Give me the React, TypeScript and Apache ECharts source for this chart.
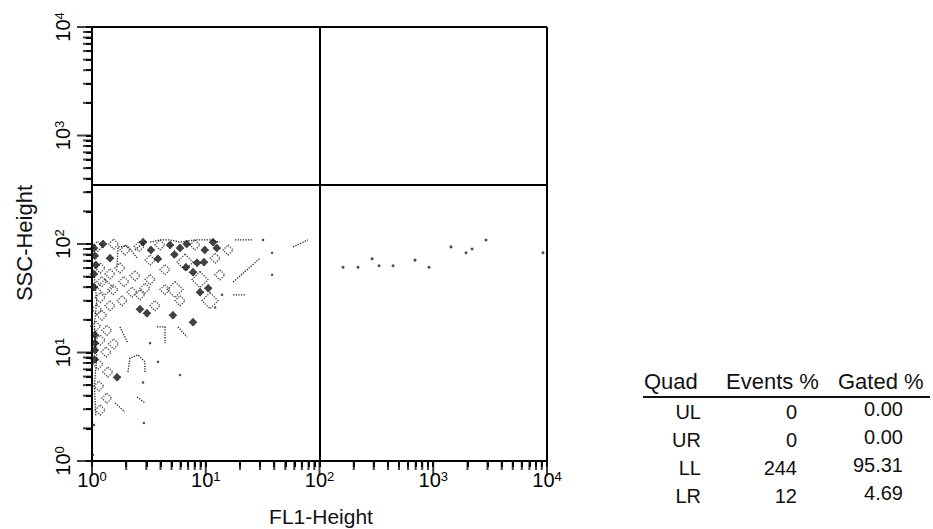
import React, { useEffect, useRef } from "react";
import * as echarts from "echarts";

// ---- data (FL1-Height, SSC-Height) ----
const QUAD_X = 100;
const QUAD_Y = 350;
const AXIS_MIN = 1;
const AXIS_MAX = 10000;
const MAJOR_TICKS = [1, 10, 100, 1000, 10000];
const MINOR_MULTIPLIERS = [2, 3, 4, 5, 6, 7, 8, 9];
const DECADES = [1, 10, 100, 1000];

const SMALL_LOOPS = [
  [1.18, 60], [1.44, 53], [1.76, 60], [1.22, 45], [1.53, 38], [1.91, 45],
  [2.39, 51], [1.18, 32], [1.44, 27], [1.84, 30], [2.25, 36], [2.92, 39],
  [1.22, 22], [1.08, 17.5], [1.18, 13], [1.33, 10.1], [1.13, 7.8], [1.38, 6.6],
  [1.15, 4.9], [1.35, 3.8], [1.18, 2.95], [3.96, 98], [1.95, 88], [3.24, 71],
  [15.7, 88], [4.38, 58], [3.24, 47], [4.38, 38], [2.64, 34], [5.94, 30],
  [8.04, 98], [12.1, 74], [13.3, 52], [3.58, 27], [1.12, 95], [1.55, 100],
  [2.6, 95], [1.35, 16], [1.55, 12], [1.1, 25],
];
const LARGE_LOOPS = [
  [6.57, 68], [8.9, 47], [5.37, 38], [10.9, 30], [1.3, 40],
];
const DENSE_CORES = [
  [1.04, 92], [1.06, 78], [1.08, 64], [1.04, 53], [2.81, 104], [3.8, 73],
  [4.85, 98], [5.94, 92], [6.7, 61], [7.73, 55], [8.38, 67], [9.65, 68],
  [10.5, 39], [8.9, 36], [11.6, 104], [3.04, 23], [2.64, 25], [5.15, 22],
  [7.73, 19], [1.06, 14.5], [1.06, 12.2], [1.06, 10.5], [1.66, 5.9], [1.44, 74],
  [1.25, 100], [3.3, 88], [5.3, 80], [6.8, 100], [9.8, 88], [12.5, 92],
  [1.04, 40], [1.05, 8.6],
];
const SPARSE_EVENTS = [
  [31.9, 109], [38.3, 83], [38.3, 52], [13.9, 34], [12.1, 26], [3.24, 12.2],
  [3.8, 8.2], [2.81, 5.3], [5.94, 6.2], [2.86, 2.24], [1.04, 2.15], [1.02, 1.14],
];
const CONTOUR_TRACES = [
  [[17.4, 44.6], [30, 74]],
  [[18.1, 109], [25.5, 109]],
  [[17.4, 34], [22.1, 34]],
  [[58.5, 94], [79, 109]],
  [[1.76, 17.2], [2.07, 12.2]],
  [[5.7, 17.2], [6.84, 13.9]],
  [[1.59, 3.43], [1.95, 2.83]],
  [[2.49, 3.89], [2.92, 3.43]],
  [[1.66, 61], [1.69, 94], [2.07, 96], [2.49, 74]],
  [[2.39, 88], [3.04, 109]],
  [[3.72, 17.2], [4.38, 17.2], [4.38, 12.2]],
  [[2.07, 6.6], [2.16, 8.9], [2.54, 9.5], [2.92, 8.2], [2.92, 6.6]],
  [[3.24, 104], [3.96, 109], [4.85, 109], [5.94, 104], [8.04, 109], [10.9, 109], [13.3, 104]],
  [[1.05, 50], [1.1, 30], [1.05, 18], [1.1, 9], [1.05, 5], [1.08, 2.6]],
];
const LR_EVENTS = [
  [161, 61], [218, 61], [290, 73], [334, 63], [443, 63], [691, 71],
  [918, 61], [1432, 94], [1941, 83], [2193, 90], [2910, 109], [9225, 83],
];

const QUAD_NAMES = ["UL", "UR", "LL", "LR"];
const EVENTS = [0, 0, 244, 12];
const GATED = ["0.00", "0.00", "95.31", "4.69"];
const TABLE_HEADERS = ["Quad", "Events %", "Gated %"];
const X_NAME = "FL1-Height";
const Y_NAME = "SSC-Height";

const FONT = "'Liberation Sans', Arial, Helvetica, sans-serif";

const minorValues: number[] = [];
DECADES.forEach((d) => MINOR_MULTIPLIERS.forEach((m) => minorValues.push(m * d)));
const allTickValues = [...MAJOR_TICKS, ...minorValues].sort((a, b) => a - b);

const supLabel = (v: number) => `10{sup|${Math.round(Math.log10(v))}}`;
const labelRich = {
  sup: { fontSize: 13, lineHeight: 12, verticalAlign: "top", color: "#000" },
};

const tickSeries = (data: number[][], size: number[], offset: number[]) => ({
  type: "scatter", clip: false, symbol: "rect",
  symbolSize: size, symbolOffset: offset, data,
  itemStyle: { color: "#111" },
});

export default function App() {
  const ref = useRef<HTMLDivElement>(null);
  useEffect(() => {
    if (!ref.current) return;
    const chart = echarts.init(ref.current, undefined, { renderer: "svg" });

    const tableGraphics: any[] = [];
    const headerX = [644, 726, 838];
    TABLE_HEADERS.forEach((h, i) => {
      tableGraphics.push({
        type: "text", x: headerX[i], y: 381,
        style: { text: h, font: `22px ${FONT}`, fill: "#111", verticalAlign: "middle" },
      });
    });
    tableGraphics.push({
      type: "line", shape: { x1: 643, y1: 397, x2: 930, y2: 397 },
      style: { stroke: "#111", lineWidth: 2 },
    });
    const rowY = [412, 440, 468, 496];
    QUAD_NAMES.forEach((q, i) => {
      tableGraphics.push({
        type: "text", x: 701, y: rowY[i],
        style: { text: q, font: `20px ${FONT}`, fill: "#111", align: "right", verticalAlign: "middle" },
      });
      tableGraphics.push({
        type: "text", x: 797, y: rowY[i],
        style: { text: String(EVENTS[i]), font: `20px ${FONT}`, fill: "#111", align: "right", verticalAlign: "middle" },
      });
      tableGraphics.push({
        type: "text", x: 903, y: rowY[i] - 3,
        style: { text: GATED[i], font: `20px ${FONT}`, fill: "#111", align: "right", verticalAlign: "middle" },
      });
    });

    const loopStyle = { color: "rgba(0,0,0,0)", borderColor: "#222", borderWidth: 1.3, borderType: "dotted" };

    const option: any = {
      animation: false,
      grid: { left: 92, right: 386, top: 27, bottom: 68 },
      xAxis: {
        type: "log", min: AXIS_MIN, max: AXIS_MAX,
        axisLine: { show: true, lineStyle: { color: "#000", width: 2 } },
        axisTick: { show: true, length: 6, customValues: allTickValues, lineStyle: { color: "#000", width: 2 } },
        splitLine: { show: false },
        axisLabel: {
          margin: 9, color: "#000", fontSize: 20, fontFamily: FONT,
          formatter: supLabel, rich: labelRich,
        },
      },
      yAxis: {
        type: "log", min: AXIS_MIN, max: AXIS_MAX,
        axisLine: { show: true, lineStyle: { color: "#000", width: 2 } },
        axisTick: { show: true, length: 6, customValues: allTickValues, lineStyle: { color: "#000", width: 2 } },
        splitLine: { show: false },
        axisLabel: {
          margin: 19, rotate: 90, color: "#000", fontSize: 20, fontFamily: FONT,
          formatter: supLabel, rich: labelRich,
        },
      },
      graphic: [
        {
          type: "text", x: 321, y: 516,
          style: { text: X_NAME, font: `21px ${FONT}`, fill: "#111", align: "center", verticalAlign: "middle" },
        },
        {
          type: "text", x: 24, y: 243, rotation: Math.PI / 2,
          style: { text: Y_NAME, font: `22px ${FONT}`, fill: "#111", align: "center", verticalAlign: "middle" },
        },
        ...tableGraphics,
      ],
      series: [
        tickSeries(minorValues.map((v) => [v, AXIS_MIN]), [2, 10], [0, 4]),
        tickSeries(MAJOR_TICKS.map((v) => [v, AXIS_MIN]), [2, 16], [0, 7]),
        tickSeries(minorValues.map((v) => [AXIS_MIN, v]), [10, 2], [-4, 0]),
        tickSeries(MAJOR_TICKS.map((v) => [AXIS_MIN, v]), [16, 2], [-7, 0]),
        {
          name: "contour traces", type: "lines", coordinateSystem: "cartesian2d",
          polyline: true,
          data: CONTOUR_TRACES.map((c) => ({ coords: c })),
          lineStyle: { color: "#222", width: 1.3, type: "dotted", opacity: 1 },
        },
        {
          name: "small loops", type: "scatter", symbol: "diamond", symbolSize: 10,
          data: SMALL_LOOPS, itemStyle: loopStyle,
        },
        {
          name: "large loops", type: "scatter", symbol: "diamond", symbolSize: 16,
          data: LARGE_LOOPS, itemStyle: loopStyle,
        },
        {
          name: "dense cores", type: "scatter", symbol: "diamond", symbolSize: 8,
          data: DENSE_CORES,
          itemStyle: { color: "#111", borderColor: "#000", borderWidth: 1, borderType: "dotted" },
        },
        {
          name: "sparse events", type: "scatter", symbol: "circle", symbolSize: 2.5,
          data: SPARSE_EVENTS,
          itemStyle: { color: "#222" },
        },
        {
          name: "LR events", type: "scatter", symbol: "circle", symbolSize: 3,
          data: LR_EVENTS,
          itemStyle: { color: "#222" },
          markLine: {
            silent: true, symbol: "none", animation: false,
            label: { show: false },
            lineStyle: { color: "#000", width: 2, type: "solid" },
            data: [
              { xAxis: QUAD_X }, { yAxis: QUAD_Y },
              { xAxis: AXIS_MAX }, { yAxis: AXIS_MAX },
            ],
          },
        },
      ],
    };
    chart.setOption(option);
    return () => chart.dispose();
  }, []);

  return <div ref={ref} style={{ position: "absolute", left: 0, top: 0, width: 933, height: 529 }} />;
}
